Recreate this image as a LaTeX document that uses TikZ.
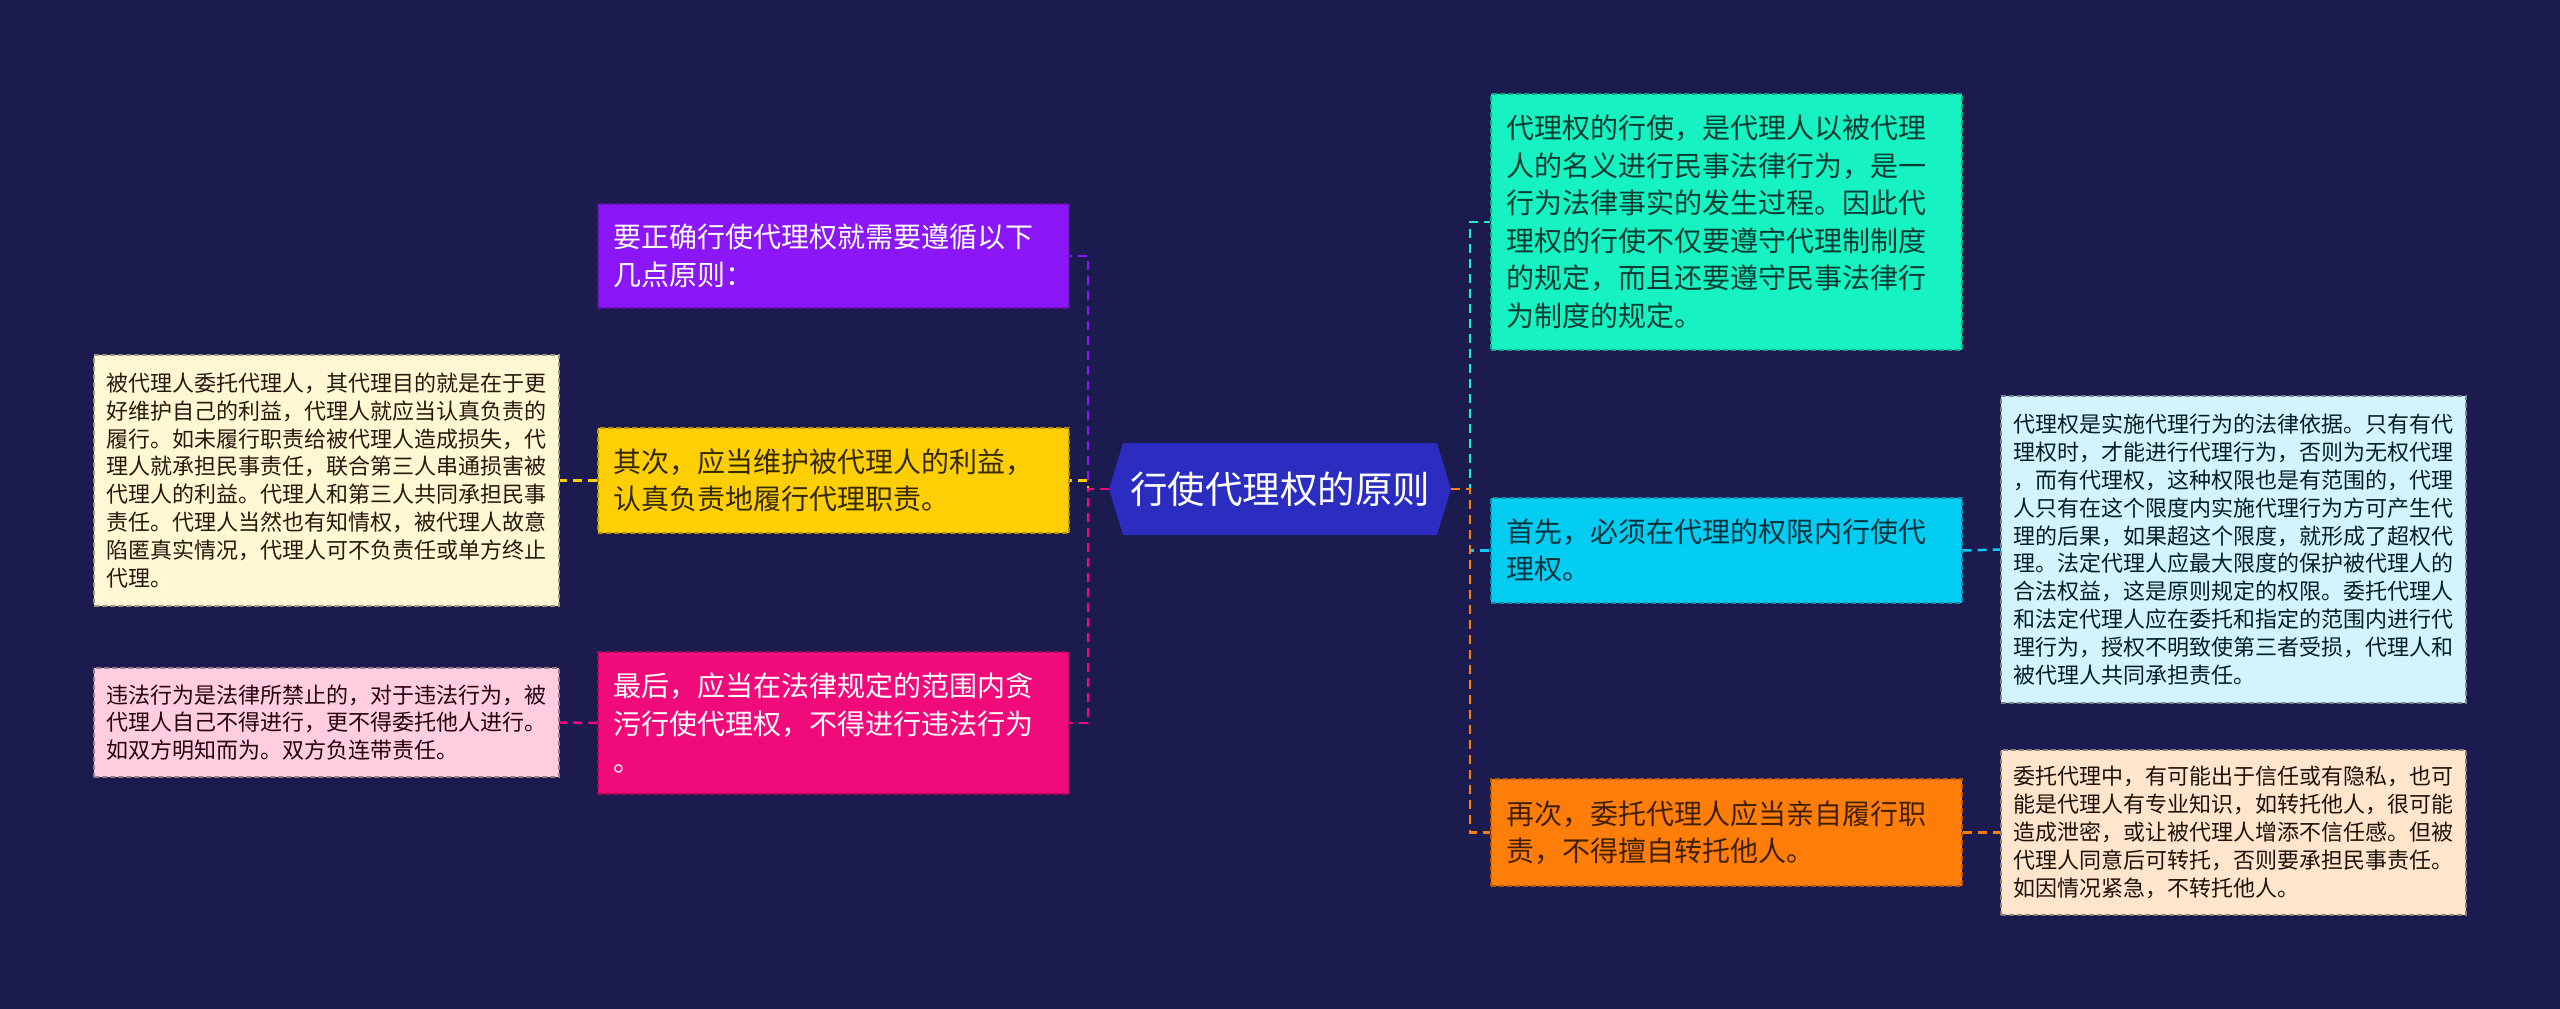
\documentclass[tikz,border=0pt]{standalone}
\usepackage{fontspec}
\setmainfont{Noto Sans CJK SC}
\usetikzlibrary{shapes.symbols}

\definecolor{bgnavy}{HTML}{1C1B4F}
\definecolor{rootblue}{HTML}{2B2CC0}
\definecolor{cpurple}{HTML}{8B16F7}
\definecolor{cyellow}{HTML}{FFCF06}
\definecolor{cmagenta}{HTML}{F00A7A}
\definecolor{cteal}{HTML}{17F2C3}
\definecolor{ccyan}{HTML}{03CDF2}
\definecolor{corange}{HTML}{FF7E0A}
\definecolor{ccream}{HTML}{FFF8D3}
\definecolor{clpink}{HTML}{FFCDE0}
\definecolor{clcyan}{HTML}{D3F4FC}
\definecolor{cpeach}{HTML}{FFE5CC}

\tikzset{
    topic/.style={rectangle, line width=1.2pt, dash pattern=on 5pt off 3pt,
        align=left, text width=441pt, inner xsep=15pt, inner ysep=0pt,
        font=\fontsize{28}{37.5}\selectfont},
    note/.style={topic, inner xsep=12pt, font=\fontsize{22}{27.8}\selectfont},
    link/.style={line width=2.5pt, dash pattern=on 9pt off 6pt},
}

\begin{document}
\begin{tikzpicture}[x=1pt, y=-1pt]
            \fill[bgnavy] (0, 0) rectangle (2560, 1009);
            \useasboundingbox (0, 0) rectangle (2560, 1009);
            % centre
            \node[signal, signal to=west and east, signal pointer angle=146,
                fill=rootblue, text=white, minimum width=342pt, minimum height=92pt,
                inner sep=0pt, font=\fontsize{37.5}{40}\selectfont] (root) at (1280, 489) {行使代理权的原则};
            % left side
            \node[topic, fill=cpurple, draw=cpurple!70!black, text=white, minimum height=104pt] (first) at (833.5, 256)
                {要正确行使代理权就需要遵循以下\\几点原则：};
            \node[topic, fill=cyellow, draw=cyellow!70!black, text=black!80!cyellow, minimum height=105pt] (second) at (833.5, 480.5)
                {其次，应当维护被代理人的利益，\\认真负责地履行代理职责。};
            \node[topic, fill=cmagenta, draw=cmagenta!70!black, text=white, minimum height=142pt] (last) at (833.5, 723)
                {最后，应当在法律规定的范围内贪\\污行使代理权，不得进行违法行为\\。};
            \node[note, fill=ccream, draw=ccream!60!black, text=black!80!brown, minimum height=251pt] (secondnote) at (326.5, 480.5)
                {被代理人委托代理人，其代理目的就是在于更\\好维护自己的利益，代理人就应当认真负责的\\履行。如未履行职责给被代理人造成损失，代\\理人就承担民事责任，联合第三人串通损害被\\代理人的利益。代理人和第三人共同承担民事\\责任。代理人当然也有知情权，被代理人故意\\陷匿真实情况，代理人可不负责任或单方终止\\代理。};
            \node[note, fill=clpink, draw=clpink!60!black, text=black!85!cmagenta, minimum height=109pt] (lastnote) at (326.5, 722.5)
                {违法行为是法律所禁止的，对于违法行为，被\\代理人自己不得进行，更不得委托他人进行。\\如双方明知而为。双方负连带责任。};
            % right side
            \node[topic, fill=cteal, draw=cteal!70!black, text=black!75!cteal, minimum height=256pt] (use) at (1726.5, 222)
                {代理权的行使，是代理人以被代理\\人的名义进行民事法律行为，是一\\行为法律事实的发生过程。因此代\\理权的行使不仅要遵守代理制制度\\的规定，而且还要遵守民事法律行\\为制度的规定。};
            \node[topic, fill=ccyan, draw=ccyan!70!black, text=black!75!ccyan, minimum height=105pt] (limit) at (1726.5, 550.5)
                {首先，必须在代理的权限内行使代\\理权。};
            \node[topic, fill=corange, draw=corange!70!black, text=black!75!corange, minimum height=107pt] (self) at (1726.5, 832.5)
                {再次，委托代理人应当亲自履行职\\责，不得擅自转托他人。};
            \node[note, fill=clcyan, draw=clcyan!55!black, text=black!85!ccyan, minimum height=307pt] (limitnote) at (2233.5, 549.5)
                {代理权是实施代理行为的法律依据。只有有代\\理权时，才能进行代理行为，否则为无权代理\\，而有代理权，这种权限也是有范围的，代理\\人只有在这个限度内实施代理行为方可产生代\\理的后果，如果超这个限度，就形成了超权代\\理。法定代理人应最大限度的保护被代理人的\\合法权益，这是原则规定的权限。委托代理人\\和法定代理人应在委托和指定的范围内进行代\\理行为，授权不明致使第三者受损，代理人和\\被代理人共同承担责任。};
            \node[note, fill=cpeach, draw=cpeach!55!black, text=black!85!brown, minimum height=165pt] (selfnote) at (2233.5, 832.5)
                {委托代理中，有可能出于信任或有隐私，也可\\能是代理人有专业知识，如转托他人，很可能\\造成泄密，或让被代理人增添不信任感。但被\\代理人同意后可转托，否则要承担民事责任。\\如因情况紧急，不转托他人。};
            % links
            \draw[link, cpurple] (root.west) -- ++(-21, 0) |- (first.east);
            \draw[link, cyellow] (root.west) -- ++(-21, 0) |- (second.east);
            \draw[link, cmagenta] (root.west) -- ++(-21, 0) |- (last.east);
            \draw[link, cteal] (root.east) -- ++(19, 0) |- (use.west);
            \draw[link, ccyan] (root.east) -- ++(19, 0) |- (limit.west);
            \draw[link, corange] (root.east) -- ++(19, 0) |- (self.west);
            \draw[link, cyellow] (second.west) -- (secondnote.east);
            \draw[link, cmagenta] (last.west) -- (lastnote.east);
            \draw[link, ccyan] (limit.east) -- (limitnote.west);
            \draw[link, corange] (self.east) -- (selfnote.west);
\end{tikzpicture}
\end{document}
